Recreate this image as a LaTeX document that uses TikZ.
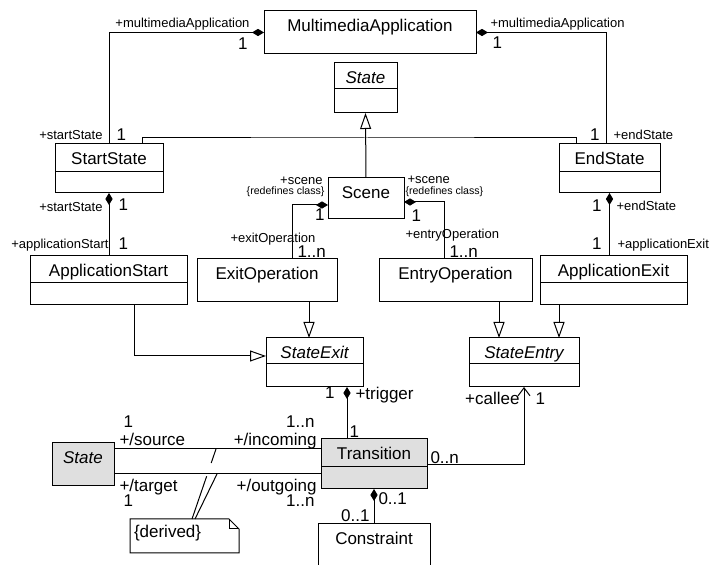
\documentclass[tikz,border=0pt]{standalone}
\usepackage{fontspec}
\setmainfont{Liberation Sans}
\usetikzlibrary{positioning,calc,arrows.meta}

\begin{document}
\begin{tikzpicture}[x=0.5pt, y=-0.5pt, line width=0.5pt,
	cname/.style={draw, inner sep=0pt, outer sep=0pt, text height=10.5pt, font=\fontsize{8.5}{10}\selectfont},
	abstract/.style={cname, font=\fontsize{8.5}{10}\selectfont\itshape},
	cbody/.style={draw, inner sep=0pt, outer sep=0pt},
	role/.style={inner sep=0pt, font=\fontsize{6.5}{8}\selectfont},
	tinyrole/.style={inner sep=0pt, font=\fontsize{5.3}{6}\selectfont},
	mult/.style={inner sep=0pt, font=\fontsize{8.5}{10}\selectfont},
	notebox/.style={inner xsep=2pt, inner ysep=0pt, outer sep=0pt, text width=50.5pt, align=left, text height=9.5pt, text depth=7.5pt, font=\fontsize{8.5}{10}\selectfont},
	comp/.style={{Diamond[length=6pt,width=3.6pt]}-},
	gen/.style={-{Triangle[open,length=8pt,width=5.5pt]}},
	nav/.style={-{Straight Barb[length=4pt,width=6pt]}}]
				\useasboundingbox (0,0) rectangle (712,565);
				\clip (0,0) rectangle (712,565);
				
				% classes
				\node[cname, anchor=north west, minimum width=106pt, text depth=11pt] (multimedia) at (264,11) {MultimediaApplication};
				\node[abstract, anchor=north west, minimum width=31.5pt, text depth=2.5pt] (state) at (334,63) {State};
				\node[cbody, below=0pt of state, minimum width=31.5pt, minimum height=12pt] (state-body) {};
				\node[cname, anchor=north west, minimum width=54pt, text depth=3.5pt] (startstate) at (55,144) {StartState};
				\node[cbody, below=0pt of startstate, minimum width=54pt, minimum height=10.5pt] (startstate-body) {};
				\node[cname, anchor=north west, minimum width=50.5pt, text depth=3.5pt] (endstate) at (559,144) {EndState};
				\node[cbody, below=0pt of endstate, minimum width=50.5pt, minimum height=10.5pt] (endstate-body) {};
				\node[cname, anchor=north west, minimum width=38pt, text depth=10pt] (scene) at (328,178) {Scene};
				\node[cname, anchor=north west, minimum width=78.5pt, text depth=3pt] (appstart) at (30,256) {ApplicationStart};
				\node[cbody, below=0pt of appstart, minimum width=78.5pt, minimum height=11pt] (appstart-body) {};
				\node[cname, anchor=north west, minimum width=70pt, text depth=11pt] (exitop) at (197,259) {ExitOperation};
				\node[cname, anchor=north west, minimum width=76.5pt, text depth=11pt] (entryop) at (379,259) {EntryOperation};
				\node[cname, anchor=north west, minimum width=73.5pt, text depth=3pt] (appexit) at (540,256) {ApplicationExit};
				\node[cbody, below=0pt of appexit, minimum width=73.5pt, minimum height=11pt] (appexit-body) {};
				\node[abstract, anchor=north west, minimum width=48.5pt, text depth=2.5pt] (stateexit) at (266,338) {StateExit};
				\node[cbody, below=0pt of stateexit, minimum width=48.5pt, minimum height=11.5pt] (stateexit-body) {};
				\node[abstract, anchor=north west, minimum width=55pt, text depth=2.5pt] (stateentry) at (469,338) {StateEntry};
				\node[cbody, below=0pt of stateentry, minimum width=55pt, minimum height=11.5pt] (stateentry-body) {};
				\node[cname, fill=gray!25, anchor=north west, minimum width=53pt, text depth=3.5pt] (transition) at (321,439) {Transition};
				\node[cbody, fill=gray!25, below=0pt of transition, minimum width=53pt, minimum height=11pt] (transition-body) {};
				\node[abstract, fill=gray!25, anchor=north west, minimum width=31pt, text depth=11pt] (statebot) at (52,443) {State};
				\node[cname, anchor=north west, minimum width=56pt, text depth=25pt] (constraint) at (318,524) {Constraint};
				\node[notebox, anchor=north west] (derived) at (130,519) {\{derived\}};
				\draw (derived.north west) -- ($(derived.north east)+(-10,0)$) -- ($(derived.north east)+(0,10)$) -- (derived.south east) -- (derived.south west) -- cycle;
				\draw ($(derived.north east)+(-10,0)$) |- ($(derived.north east)+(0,10)$);
				
				% generalizations
				\coordinate (genbus) at (366,138);
				\draw[gen] (scene.north) -- (state-body.south);
				\draw ($(startstate.north)+(33,0)$) |- (genbus) -| ($(endstate.north)+(-33.5,0)$);
				\draw[gen] ($(appstart-body.south)+(25.5,0)$) |- ($(stateexit.west)+(0,5)$);
				\coordinate (exitfoot) at ($(exitop.south)+(42,0)$);
				\draw[gen] (exitfoot) -- (exitfoot |- stateexit.north);
				\coordinate (entryfoot) at ($(entryop.south)+(43.5,0)$);
				\draw[gen] (entryfoot) -- (entryfoot |- stateentry.north);
				\coordinate (appexitfoot) at ($(appexit-body.south)+(-54.5,0)$);
				\draw[gen] (appexitfoot) -- (appexitfoot |- stateentry.north);
				
				% compositions
				\draw[comp] (multimedia.west) -| (startstate.north);
				\draw[comp] (multimedia.east) -| ($(endstate.north)+(-3.5,0)$);
				\draw[comp] (startstate-body.south) -- (startstate-body.south |- appstart.north);
				\draw[comp] (endstate-body.south) -- (endstate-body.south |- appexit.north);
				\draw[comp] ($(scene.west)+(0,6.5)$) -| ($(exitop.north)+(25,0)$);
				\draw[comp] ($(scene.east)+(0,3.5)$) -| ($(entryop.north)+(-11.5,0)$);
				\coordinate (trigfoot) at ($(stateexit-body.south)+(32.5,0)$);
				\draw[comp] (trigfoot) -- (trigfoot |- transition.north);
				\draw[comp] (transition-body.south) -- (constraint.north);
				
				% associations
				\draw[nav] ($(transition.east)+(0,12)$) -| (stateentry-body.south);
				\coordinate (srcend) at ($(statebot.east)+(0,-15.5)$);
				\coordinate (tgtend) at ($(statebot.east)+(0,9.5)$);
				\draw (srcend) -- (srcend -| transition.west);
				\draw (tgtend) -- (tgtend -| transition.west);
				
				% note links
				\coordinate (noteA) at ($(derived.north west)+(62,0)$);
				\coordinate (noteB) at ($(derived.north west)+(65,0)$);
				\coordinate (srcmark) at ($(srcend)+(102,0)$);
				\coordinate (tgtmark) at ($(tgtend)+(103,0)$);
				\draw (noteB) -- (tgtmark);
				\draw (noteA) -- ($(noteA)!0.61!(srcmark)$);
				\draw ($(noteA)!0.8!(srcmark)$) -- (srcmark);
				
				% ends
				\node[role, anchor=base east] (r-ma-l) at (250,27.5) {+multimediaApplication};
				\node[mult, anchor=base east] (m-ma-l) at (248,50) {1};
				\node[role, anchor=base east] (r-start-top) at (103,139.5) {+startState};
				\node[mult, anchor=base west] (m-start-top) at (116,141) {1};
				\node[role, anchor=base west] (r-ma-r) at (490,27.5) {+multimediaApplication};
				\node[mult, anchor=base west] (m-ma-r) at (492,49) {1};
				\node[mult, anchor=base east] (m-end-top) at (600,140.5) {1};
				\node[role, anchor=base west] (r-end-top) at (613,139.5) {+endState};
				
				\node[role, anchor=base east] (r-start-comp) at (103,211.5) {+startState};
				\node[mult, anchor=base west] (m-start-comp) at (118,211) {1};
				\node[role, anchor=base east] (r-appstart) at (109,249) {+applicationStart};
				\node[mult, anchor=base west] (m-appstart) at (118,249.5) {1};
				\node[mult, anchor=base east] (m-end-comp) at (602,211.5) {1};
				\node[role, anchor=base west] (r-end-comp) at (616,210.5) {+endState};
				\node[mult, anchor=base east] (m-appexit) at (602,250) {1};
				\node[role, anchor=base west] (r-appexit) at (617,249) {+applicationExit};
				
				\node[role, anchor=base east] (r-scene-l) at (323,185) {+scene};
				\node[tinyrole, anchor=base east] (c-scene-l) at (325,195) {\{redefines class\}};
				\node[mult, anchor=base east] (m-scene-l) at (325,221) {1};
				\node[role, anchor=base west] (r-exitop) at (230,243) {+exitOperation};
				\node[mult, anchor=base west] (m-exitop) at (297,258) {1..n};
				\node[role, anchor=base west] (r-scene-r) at (407,184) {+scene};
				\node[tinyrole, anchor=base west] (c-scene-r) at (405,195) {\{redefines class\}};
				\node[mult, anchor=base west] (m-scene-r) at (411,222) {1};
				\node[role, anchor=base west] (r-entryop) at (405,239) {+entryOperation};
				\node[mult, anchor=base west] (m-entryop) at (449,258) {1..n};
				
				\node[mult, anchor=base east] (m-trig-top) at (335,399) {1};
				\node[mult, anchor=base west] (r-trigger) at (355,400) {+trigger};
				\node[mult, anchor=base west] (m-trig-bot) at (349,438) {1};
				\node[mult, anchor=base west] (m-source) at (123,428) {1};
				\node[mult, anchor=base west] (r-source) at (119,446) {+/source};
				\node[mult, anchor=base east] (m-incoming) at (315,428) {1..n};
				\node[mult, anchor=base east] (r-incoming) at (317,446) {+/incoming};
				\node[mult, anchor=base west] (r-target) at (119,492) {+/target};
				\node[mult, anchor=base west] (m-target) at (123,507) {1};
				\node[mult, anchor=base east] (r-outgoing) at (317,492) {+/outgoing};
				\node[mult, anchor=base east] (m-outgoing) at (315,507) {1..n};
				\node[mult, anchor=base west] (m-callee-t) at (430,464) {0..n};
				\node[mult, anchor=base east] (r-callee) at (520,405) {+callee};
				\node[mult, anchor=base west] (m-callee) at (535,405) {1};
				\node[mult, anchor=base west] (m-cons-t) at (378,505) {0..1};
				\node[mult, anchor=base east] (m-cons) at (370,522) {0..1};
\end{tikzpicture}
\end{document}
